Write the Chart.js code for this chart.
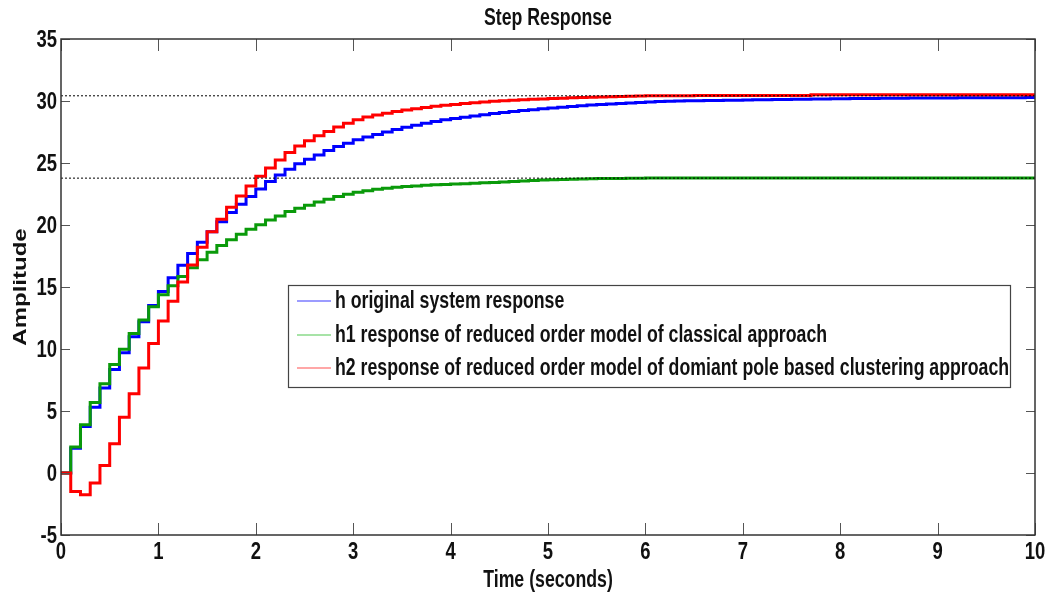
<!DOCTYPE html>
<html>
<head>
<meta charset="utf-8">
<script src="https://cdn.jsdelivr.net/npm/chart.js@4.4.1/dist/chart.umd.min.js"></script>
<style>
html,body{margin:0;padding:0;background:#fff;}
#wrap{width:1050px;height:597px;}
</style>
</head>
<body>
<div id="wrap"><canvas id="c" width="1050" height="597"></canvas></div>
<script>
const time = [0,0.1,0.2,0.3,0.4,0.5,0.6,0.7,0.8,0.9,
 1,1.1,1.2,1.3,1.4,1.5,1.6,1.7,1.8,1.9,
 2,2.1,2.2,2.3,2.4,2.5,2.6,2.7,2.8,2.9,
 3,3.1,3.2,3.3,3.4,3.5,3.6,3.7,3.8,3.9,
 4,4.1,4.2,4.3,4.4,4.5,4.6,4.7,4.8,4.9,
 5,5.1,5.2,5.3,5.4,5.5,5.6,5.7,5.8,5.9,
 6,6.1,6.2,6.3,6.4,6.5,6.6,6.7,6.8,6.9,
 7,7.1,7.2,7.3,7.4,7.5,7.6,7.7,7.8,7.9,
 8,8.1,8.2,8.3,8.4,8.5,8.6,8.7,8.8,8.9,
 9,9.1,9.2,9.3,9.4,9.5,9.6,9.7,9.8,9.9,
 10];

// h : original system response
const h = [0,2.0,3.76,5.3,6.86,8.34,9.69,10.98,12.19,13.5,
 14.63,15.75,16.75,17.7,18.6,19.45,20.27,21.0,21.67,22.3,
 22.9,23.5,24.04,24.5,24.93,25.3,25.65,26.0,26.33,26.6,
 26.87,27.1,27.3,27.5,27.7,27.88,28.05,28.2,28.35,28.48,
 28.58,28.69,28.8,28.9,28.99,29.07,29.15,29.23,29.3,29.37,
 29.44,29.5,29.56,29.62,29.67,29.72,29.76,29.8,29.84,29.88,
 29.92,29.95,29.98,30.0,30.02,30.03,30.04,30.05,30.06,30.07,
 30.08,30.1,30.11,30.12,30.13,30.14,30.15,30.16,30.17,30.18,
 30.19,30.2,30.2,30.21,30.22,30.23,30.23,30.24,30.24,30.25,
 30.25,30.25,30.26,30.26,30.26,30.27,30.27,30.27,30.27,30.28,
 30.28];

// h1 : reduced order model, classical approach
const h1 = [0,2.09,3.9,5.68,7.2,8.75,9.98,11.25,12.33,13.4,
 14.38,15.1,15.85,16.55,17.2,17.8,18.35,18.82,19.25,19.65,
 20.02,20.4,20.73,21.08,21.35,21.6,21.86,22.07,22.29,22.48,
 22.64,22.77,22.88,22.97,23.04,23.1,23.15,23.2,23.24,23.27,
 23.3,23.33,23.36,23.4,23.43,23.47,23.5,23.54,23.58,23.62,
 23.65,23.67,23.69,23.71,23.73,23.74,23.75,23.76,23.77,23.78,
 23.79,23.79,23.8,23.8,23.8,23.8,23.8,23.8,23.8,23.8,
 23.8,23.8,23.8,23.8,23.8,23.8,23.8,23.8,23.8,23.8,
 23.8,23.8,23.8,23.8,23.8,23.8,23.8,23.8,23.8,23.8,
 23.8,23.8,23.8,23.8,23.8,23.8,23.8,23.8,23.8,23.8,
 23.8];

// h2 : reduced order model, dominant pole based clustering approach
const h2 = [0,-1.5,-1.75,-0.8,0.6,2.36,4.5,6.4,8.47,10.44,
 12.25,13.85,15.4,16.77,18.2,19.46,20.46,21.43,22.34,23.15,
 23.93,24.6,25.25,25.84,26.38,26.8,27.19,27.54,27.9,28.2,
 28.48,28.7,28.87,29.02,29.16,29.28,29.38,29.48,29.57,29.65,
 29.72,29.8,29.86,29.92,29.97,30.02,30.06,30.1,30.14,30.17,
 30.2,30.23,30.26,30.29,30.31,30.33,30.35,30.37,30.39,30.41,
 30.42,30.42,30.43,30.43,30.43,30.44,30.44,30.44,30.44,30.44,
 30.45,30.45,30.45,30.45,30.45,30.45,30.45,30.5,30.5,30.5,
 30.5,30.5,30.5,30.5,30.5,30.5,30.5,30.5,30.5,30.5,
 30.5,30.5,30.5,30.5,30.5,30.5,30.5,30.5,30.5,30.5,
 30.5];

// steady-state marker levels (dotted lines)
const steadyState = [30.42, 23.78];
const steadySpan = [0, 10];

const labels = [
 'h original system response',
 'h1 response of reduced order model of classical approach',
 'h2 response of reduced order model of domiant pole based clustering approach'
];
const xTicks = [0,1,2,3,4,5,6,7,8,9,10];
const yTicks = [-5,0,5,10,15,20,25,30,35];
const titleText = 'Step Response';
const xTitle = 'Time (seconds)';
const yTitle = 'Amplitude';

const FONT = '"Liberation Sans",Arial,sans-serif';
const SQ = 0.77; // horizontal squeeze of the text (narrow look)

function pts(xs, ys){ return xs.map((t,i)=>({x:t, y:ys[i]})); }

const lineColors = ['#0000ff','#0a9a0a','#ff0000'];
const legendColors = ['#3a3aff','#50c850','#ff5050'];

function txt(ctx, s, x, y, size, align, baseline, rotate){
  ctx.save();
  ctx.translate(x, y);
  if (rotate) { ctx.rotate(-Math.PI/2); ctx.scale(1, SQ); }
  else ctx.scale(SQ, 1);
  ctx.font = 'bold ' + size + 'px ' + FONT;
  ctx.textAlign = align;
  ctx.textBaseline = baseline;
  ctx.fillStyle = '#111';
  ctx.fillText(s, 0, 0);
  ctx.restore();
}

const frame = {
  id:'frame',
  afterDatasetsDraw(chart){
    const {ctx, chartArea:{left,right,top,bottom}, scales:{x,y}} = chart;
    ctx.save();
    ctx.strokeStyle = '#555';
    ctx.lineWidth = 1;
    ctx.beginPath();
    xTicks.forEach(v=>{
      const px = Math.round(x.getPixelForValue(v))+0.5;
      ctx.moveTo(px,bottom); ctx.lineTo(px,bottom-12);
      ctx.moveTo(px,top); ctx.lineTo(px,top+12);
    });
    yTicks.forEach(v=>{
      const py = Math.round(y.getPixelForValue(v))+0.5;
      ctx.moveTo(left,py); ctx.lineTo(left+9,py);
      ctx.moveTo(right,py); ctx.lineTo(right-9,py);
    });
    ctx.stroke();
    ctx.strokeStyle = '#333';
    ctx.lineWidth = 1.5;
    ctx.strokeRect(left, top, right-left, bottom-top);
    ctx.restore();
  },
  afterDraw(chart){
    const {ctx, chartArea:{left,right,top,bottom}, scales:{x,y}} = chart;
    const cx = (left+right)/2;
    // tick labels
    xTicks.forEach(v=> txt(ctx, String(v), x.getPixelForValue(v), bottom+17, 24, 'center', 'middle', false));
    yTicks.forEach(v=> txt(ctx, String(v), left-4, y.getPixelForValue(v)+1, 24, 'right', 'middle', false));
    // titles
    txt(ctx, titleText, cx, 19, 23, 'center', 'middle', false);
    txt(ctx, xTitle, cx, 587, 23, 'center', 'alphabetic', false);
    txt(ctx, yTitle, 21, (top+bottom)/2, 24, 'center', 'middle', true);
    // legend
    ctx.save();
    const bx=288, by=285, bw=722, bh=102;
    ctx.fillStyle='#fff';
    ctx.fillRect(bx,by,bw,bh);
    ctx.strokeStyle='#444';
    ctx.lineWidth=1.2;
    ctx.strokeRect(bx+0.5,by+0.5,bw,bh);
    const rows=[301,335,368];
    labels.forEach((lab,i)=>{
      ctx.strokeStyle=legendColors[i];
      ctx.lineWidth=1.2;
      ctx.beginPath();
      ctx.moveTo(297,rows[i]); ctx.lineTo(331,rows[i]);
      ctx.stroke();
      txt(ctx, lab, 335, rows[i]+1, 23, 'left', 'middle', false);
    });
    ctx.restore();
  }
};

const ds = [
  {label:'ss1', data:pts(steadySpan,[steadyState[0],steadyState[0]]), borderColor:'#000', borderWidth:1, borderDash:[2,2], pointRadius:0, order:0},
  {label:'ss2', data:pts(steadySpan,[steadyState[1],steadyState[1]]), borderColor:'#000', borderWidth:1, borderDash:[2,2], pointRadius:0, order:0},
  {label:labels[2], data:pts(time,h2), borderColor:lineColors[2], borderWidth:3, pointRadius:0, stepped:true, order:1},
  {label:labels[1], data:pts(time,h1), borderColor:lineColors[1], borderWidth:3, pointRadius:0, stepped:true, order:2},
  {label:labels[0], data:pts(time,h), borderColor:lineColors[0], borderWidth:3, pointRadius:0, stepped:true, order:3}
];

new Chart(document.getElementById('c'), {
  type:'line',
  data:{datasets:ds},
  plugins:[frame],
  options:{
    responsive:false,
    animation:false,
    devicePixelRatio:1,
    layout:{padding:{left:0,right:15,top:39,bottom:0}},
    plugins:{
      legend:{display:false},
      tooltip:{enabled:false},
      title:{display:false}
    },
    scales:{
      x:{type:'linear', min:0, max:10,
        afterBuildTicks(s){ s.ticks = xTicks.map(v=>({value:v})); },
        afterFit(s){ s.height = 62; },
        grid:{display:false}, border:{display:false},
        ticks:{display:false}
      },
      y:{type:'linear', min:-5, max:35,
        afterBuildTicks(s){ s.ticks = yTicks.map(v=>({value:v})); },
        afterFit(s){ s.width = 61; },
        grid:{display:false}, border:{display:false},
        ticks:{display:false}
      }
    }
  }
});
</script>
</body>
</html>
